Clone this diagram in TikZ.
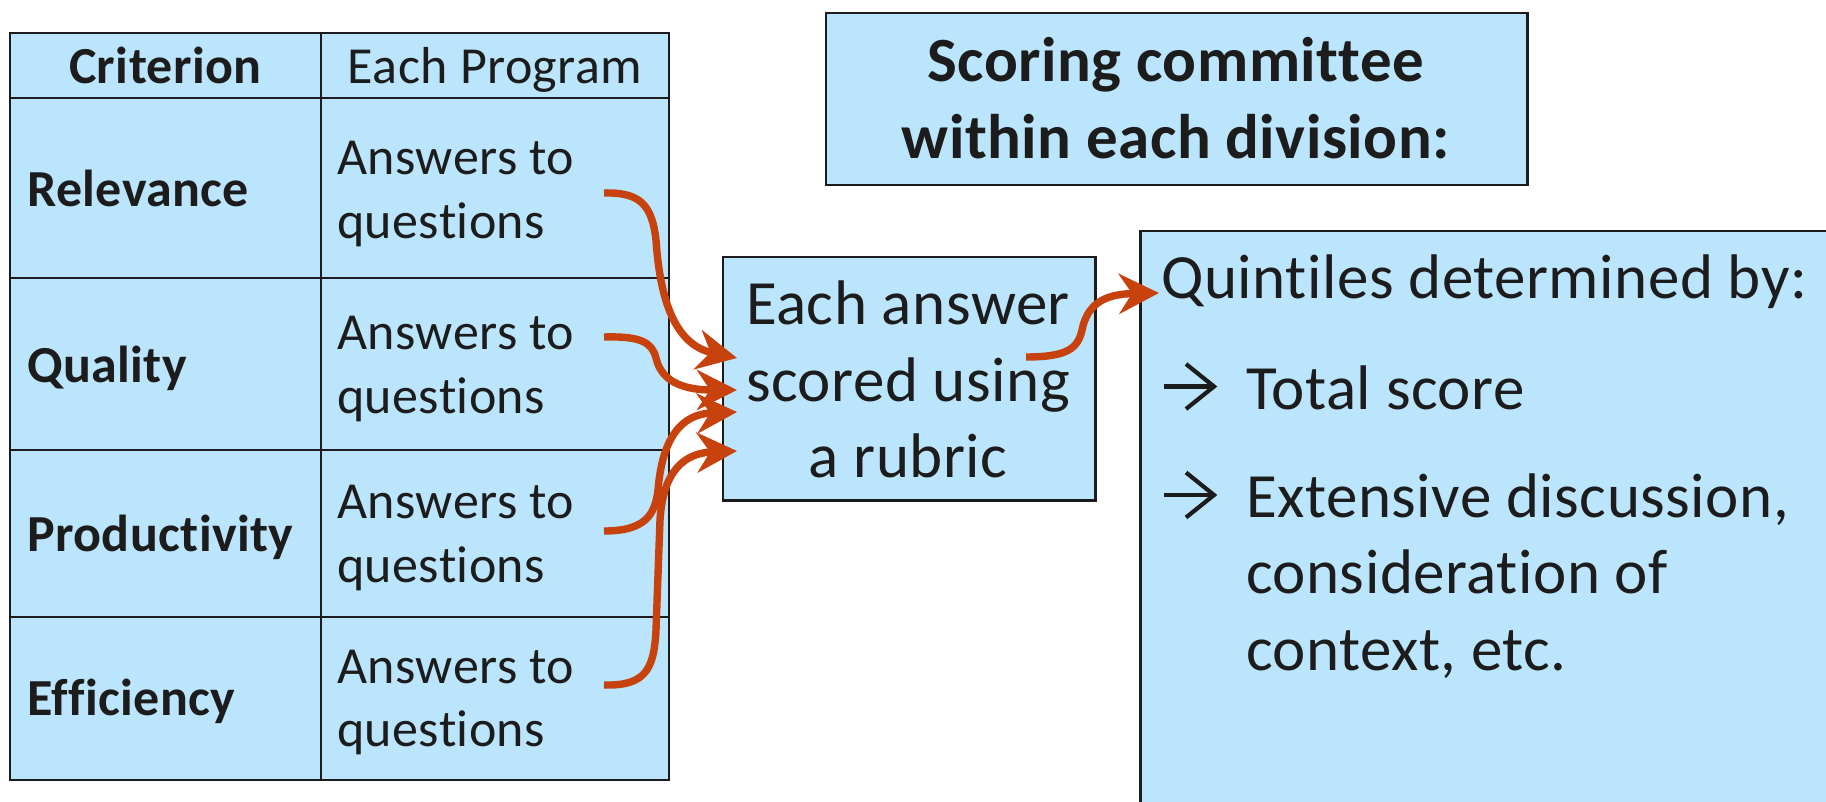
\documentclass[tikz,border=0pt]{standalone}
\usepackage{fontspec}
\setmainfont{Carlito}[Ligatures={NoCommon},LetterSpace=0.8]
\usetikzlibrary{arrows.meta}
\definecolor{boxfill}{RGB}{187,229,252}
\definecolor{ink}{RGB}{28,28,28}
\definecolor{flow}{RGB}{200,66,14}
\begin{document}
\begin{tikzpicture}[x=0.5pt,y=-0.5pt,
  gridline/.style={draw=ink,line width=1.4pt},
  boxed/.style={fill=boxfill,draw=ink,line width=1.1pt,inner sep=0pt,anchor=north west},
  txt/.style={font=\fontsize{26pt}{31pt}\selectfont,text=ink,inner sep=0pt},
  txtbold/.style={font=\fontsize{26pt}{31pt}\selectfont\bfseries,text=ink,inner sep=0pt},
  big/.style={font=\fontsize{31.5pt}{38pt}\selectfont,text=ink,inner sep=0pt},
  bigbold/.style={font=\fontsize{31.5pt}{38pt}\selectfont\bfseries,text=ink,inner sep=0pt},
  flowarrow/.style={draw=flow,line width=3.7pt,
    -{Stealth[length=20pt,width=20pt,inset=6.5pt]}},
  bulletarrow/.style={draw=ink,line width=2.1pt,miter limit=10}]

\clip (0,0) rectangle (1826,802);
\fill[white] (0,0) rectangle (1826,802);

% criteria table
\fill[boxfill] (10,33) rectangle (669,780);
\draw[gridline] (10,33) rectangle (669,780);
\draw[gridline] (321,33) -- (321,780);
\foreach \yy in {98,278,450,617} \draw[gridline] (10,\yy) -- (669,\yy);

\node[txtbold,anchor=base] (hcrit) at (165.5,84) {Criterion};
\node[txt,anchor=base] (hprog) at (495,84) {Each Program};

\node[txtbold,anchor=base west] (relevance) at (26.7,206.7) {Relevance};
\node[txtbold,anchor=base west] (quality) at (26.7,382) {Quality};
\node[txtbold,anchor=base west] (productivity) at (26.7,551.7) {Productivity};
\node[txtbold,anchor=base west] (efficiency) at (26.7,715) {Efficiency};

\node[txt,anchor=base west] (ans1a) at (336.7,174.3) {Answers to};
\node[txt,anchor=base west] (ans1b) at (336.7,238.3) {questions};
\node[txt,anchor=base west] (ans2a) at (336.7,350) {Answers to};
\node[txt,anchor=base west] (ans2b) at (336.7,413.5) {questions};
\node[txt,anchor=base west] (ans3a) at (336.7,518.3) {Answers to};
\node[txt,anchor=base west] (ans3b) at (336.7,582.7) {questions};
\node[txt,anchor=base west] (ans4a) at (336.7,683.3) {Answers to};
\node[txt,anchor=base west] (ans4b) at (336.7,746.7) {questions};

% heading box
\node[boxed,minimum width=350.7pt,minimum height=85.85pt] (headbox) at (825,12.3) {};
\node[bigbold,anchor=base] (head1) at (1175.7,81.7) {Scoring committee};
\node[bigbold,anchor=base] (head2) at (1175.7,158.3) {within each division:};

% rubric box
\node[boxed,minimum width=186.3pt,minimum height=121.8pt] (rubric) at (721.7,255.7) {};
\node[big,anchor=base] (rub1) at (908,325) {Each answer};
\node[big,anchor=base] (rub2) at (908,401) {scored using};
\node[big,anchor=base] (rub3) at (908,477.7) {a rubric};

% quintiles box (runs past the right and bottom edges)
\node[boxed,minimum width=380pt,minimum height=320pt] (quint) at (1139.3,230) {};
\node[big,anchor=base west] (qhead) at (1161,299) {Quintiles determined by:};
\node[big,anchor=base west] (qtotal) at (1245.7,409.3) {Total score};
\node[big,anchor=base west] (qext1) at (1245.7,517.3) {Extensive discussion,};
\node[big,anchor=base west] (qext2) at (1245.7,593.3) {consideration of};
\node[big,anchor=base west] (qext3) at (1245.7,670.7) {context, etc.};

% bullet arrows
\draw[bulletarrow] (1164.3,386.5) -- (1213,386.5);
\draw[bulletarrow] (1186,364) -- (1214,386.5) -- (1186,409);
\draw[bulletarrow] (1164.3,495) -- (1213,495);
\draw[bulletarrow] (1186,472.5) -- (1214,495) -- (1186,517.5);

% connector ends
\coordinate (s1) at (604,193);
\coordinate (s2) at (604,337);
\coordinate (s3) at (604,531);
\coordinate (s4) at (604,685);
\coordinate (t1) at (737,358);
\coordinate (t2) at (737,390);
\coordinate (t3) at (737,412);
\coordinate (t4) at (737,451);
\coordinate (s5) at (1026,357);
\coordinate (t5) at (1159,293);

% curved connectors
\draw[flowarrow] (s1) .. controls (640,192) and (652,205) .. (656,240)
  .. controls (660,300) and (675,345) .. (t1);
\draw[flowarrow] (s2) .. controls (640,336) and (652,342) .. (656,358)
  .. controls (662,385) and (690,390) .. (t2);
\draw[flowarrow] (s3) .. controls (645,531) and (655,515) .. (658,490)
  .. controls (662,440) and (680,414) .. (t3);
\draw[flowarrow] (s4) .. controls (645,686) and (654,670) .. (656,630)
  -- (660,520) .. controls (663,470) and (685,453) .. (t4);
\draw[flowarrow] (s5) .. controls (1068,357) and (1078,348) .. (1082,330)
  .. controls (1088,300) and (1110,294) .. (t5);
\end{tikzpicture}
\end{document}
